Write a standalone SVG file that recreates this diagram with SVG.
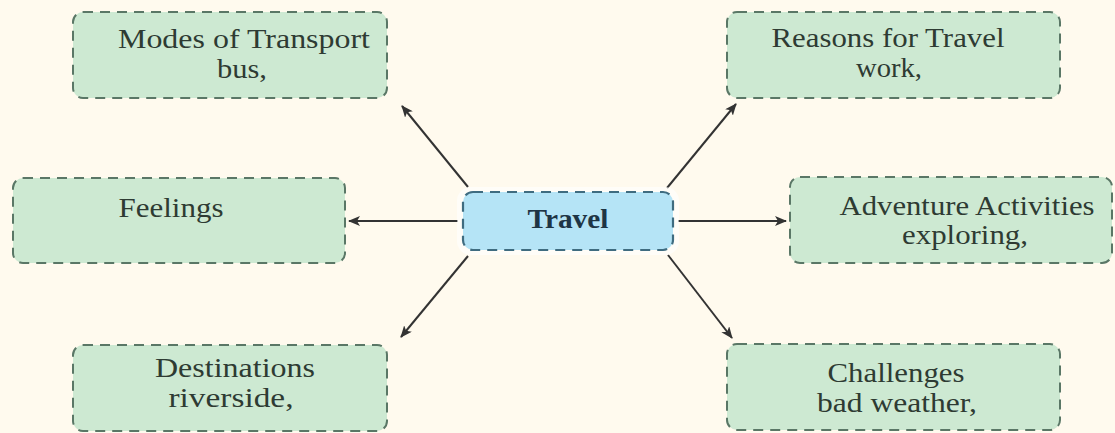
<svg xmlns="http://www.w3.org/2000/svg" width="1115" height="433" viewBox="0 0 1115 433">
<style>
.box{fill:#cde9d2;stroke:#5a7766;stroke-width:2;stroke-dasharray:10 7}
.hub{fill:#b5e4f6;stroke:#3f6c80;stroke-width:2.2;stroke-dasharray:10 7}
.t{font-family:"Liberation Serif","DejaVu Serif",serif;font-size:27px;fill:#2e3b33;text-anchor:middle}
.th{font-family:"Liberation Serif","DejaVu Serif",serif;font-size:27px;font-weight:bold;fill:#1e3545;text-anchor:middle}
.c{stroke:#333;stroke-width:2;fill:none;marker-end:url(#ah)}
</style>
<defs>
<marker id="ah" viewBox="0 0 12 10" refX="11" refY="5" markerWidth="12" markerHeight="10" markerUnits="userSpaceOnUse" orient="auto">
<path d="M0,0 L12,5 L0,10 L3,5 Z" fill="#333"/>
</marker>
</defs>
<rect width="1115" height="433" fill="#fffaee"/>
<g id="connectors">
<line class="c" x1="468" y1="187" x2="402" y2="106"/>
<line class="c" x1="667" y1="188" x2="736" y2="104"/>
<line class="c" x1="458" y1="221" x2="349" y2="221"/>
<line class="c" x1="678" y1="221" x2="786" y2="221"/>
<line class="c" x1="468" y1="256" x2="401" y2="337"/>
<line class="c" x1="668" y1="255" x2="732" y2="338"/>
</g>
<g id="travel">
<rect x="457" y="187" width="222" height="68" rx="14" fill="#ffffff" opacity="0.6"/>
<rect class="hub" x="463" y="192" width="210" height="58" rx="10"/>
<text class="th" x="568" y="228" textLength="81" lengthAdjust="spacingAndGlyphs">Travel</text>
</g>
<g id="modes">
<rect class="box" x="73" y="12" width="314" height="86" rx="10"/>
<text class="t" x="244" y="48" textLength="252" lengthAdjust="spacingAndGlyphs">Modes of Transport</text>
<text class="t" x="242" y="78" textLength="50" lengthAdjust="spacingAndGlyphs">bus,</text>
</g>
<g id="reasons">
<rect class="box" x="727" y="12" width="333" height="86" rx="10"/>
<text class="t" x="888" y="47" textLength="233" lengthAdjust="spacingAndGlyphs">Reasons for Travel</text>
<text class="t" x="889" y="77" textLength="66" lengthAdjust="spacingAndGlyphs">work,</text>
</g>
<g id="feelings">
<rect class="box" x="13" y="178" width="332" height="85" rx="10"/>
<text class="t" x="171" y="217" textLength="105" lengthAdjust="spacingAndGlyphs">Feelings</text>
</g>
<g id="adventure">
<rect class="box" x="790" y="177" width="322" height="86" rx="10"/>
<text class="t" x="967" y="215" textLength="255" lengthAdjust="spacingAndGlyphs">Adventure Activities</text>
<text class="t" x="965" y="244" textLength="126" lengthAdjust="spacingAndGlyphs">exploring,</text>
</g>
<g id="destinations">
<rect class="box" x="73" y="345" width="314" height="86" rx="10"/>
<text class="t" x="235" y="377" textLength="160" lengthAdjust="spacingAndGlyphs">Destinations</text>
<text class="t" x="231" y="407" textLength="125" lengthAdjust="spacingAndGlyphs">riverside,</text>
</g>
<g id="challenges">
<rect class="box" x="727" y="344" width="333" height="86" rx="10"/>
<text class="t" x="896" y="382" textLength="137" lengthAdjust="spacingAndGlyphs">Challenges</text>
<text class="t" x="897" y="412" textLength="160" lengthAdjust="spacingAndGlyphs">bad weather,</text>
</g>
</svg>
